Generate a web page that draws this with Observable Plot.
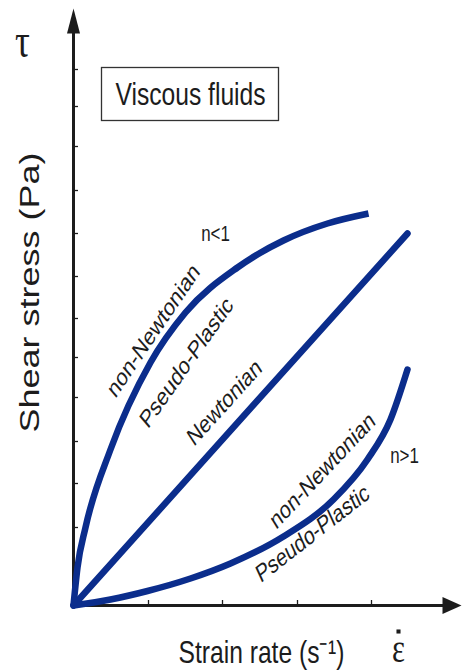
<!DOCTYPE html>
<html><head><meta charset="utf-8">
<script src="https://cdn.jsdelivr.net/npm/d3@7"></script>
<script src="https://cdn.jsdelivr.net/npm/@observablehq/plot@0.6"></script>
<style>html,body{margin:0;padding:0;background:#fff;overflow:hidden}</style>
</head><body><div id="chart"></div>
<script>
// Strain rate (x) vs shear stress (y), arbitrary units
const shearThinning = [ // n<1
  {x:0,y:0},{x:4,y:38},{x:12,y:78},{x:37,y:156},{x:77,y:243},{x:112,y:293},
  {x:164,y:338},{x:210,y:365},{x:254,y:382},{x:295,y:392}
];
const newtonian = [{x:0,y:0},{x:334,y:372}];
const shearThickening = [ // n>1
  {x:0,y:0},{x:37,y:6},{x:74,y:14.5},{x:117,y:27},{x:157,y:42},{x:210,y:69},
  {x:260,y:106},{x:294,y:146},{x:317,y:186},{x:334,y:236}
];
const xTicks = [75, 149, 224, 298];
const yTicks = [39, 78, 122, 164, 208, 248, 287, 329, 372, 415, 459, 499, 536];
const curveLabels = [
  {text:"non-Newtonian", x:80, y:275, angle:-48.7},
  {text:"Pseudo-Plastic", x:113, y:243, angle:-47.7},
  {text:"Newtonian", x:151, y:203, angle:-40.6},
  {text:"non-Newtonian", x:249, y:135, angle:-39.3},
  {text:"Pseudo-Plastic", x:239, y:72, angle:-31}
];
const indexLabels = [{text:"n<1", x:142, y:365},{text:"n>1", x:331, y:143}];
const titleBox = [{text:"Viscous fluids", x:117, y:511}];
const stressSymbol = [{text:"τ", x:-51, y:549}];
const rateSymbol = [{text:"ε", x:325, y:-56}];
const axisTitles = {y:{text:"Shear stress (Pa)", x:-35, y:313}, x:{text:"Strain rate (s⁻¹)", x:188, y:-57}};

const blue = "#0b2d8c", ink = "#1c1c1c";
const serif = "'Liberation Serif', 'DejaVu Serif', serif";
const arrowUp = {draw(ctx){ctx.moveTo(0,0);ctx.lineTo(6.5,25);ctx.lineTo(-6.5,25);ctx.closePath();}};
const arrowRight = {draw(ctx){ctx.moveTo(0,0);ctx.lineTo(-19,8.5);ctx.lineTo(-19,-8.5);ctx.closePath();}};

const chart = Plot.plot({
  width: 462, height: 670,
  marginLeft: 73, marginRight: 1, marginTop: 8, marginBottom: 65,
  x: {domain: [0, 388], axis: null},
  y: {domain: [0, 597], axis: null},
  style: {background: "white", fontFamily: "'Liberation Sans', Arial, sans-serif", color: ink},
  marks: [
    Plot.ruleX([0], {y1: 0, y2: 575, stroke: ink, strokeWidth: 3}),
    Plot.ruleY([0], {x1: 0, x2: 370, stroke: ink, strokeWidth: 3}),
    Plot.dot([{x:0, y:597}], {x:"x", y:"y", symbol: arrowUp, fill: ink, stroke: "none"}),
    Plot.dot([{x:388, y:0}], {x:"x", y:"y", symbol: arrowRight, fill: ink, stroke: "none"}),
    Plot.ruleX(xTicks, {y1: 0, y2: 5, stroke: ink, strokeWidth: 1.3}),
    Plot.ruleY(yTicks, {x1: 0, x2: 5, stroke: ink, strokeWidth: 1.3}),
    Plot.rect(titleBox, {x1: d => d.x - 88.5, x2: d => d.x + 88.5, y1: d => d.y - 26.5, y2: d => d.y + 26.5, fill: "white", stroke: "#333", strokeWidth: 1.3}),
    Plot.text(titleBox, {x:"x", y:"y", text:"text", fontSize: 32, fill: ink}),
    Plot.line(newtonian, {x:"x", y:"y", stroke: blue, strokeWidth: 6.5, strokeLinecap: "round"}),
    Plot.line(shearThickening, {x:"x", y:"y", stroke: blue, strokeWidth: 6.5, strokeLinecap: "round", curve: "monotone-x"}),
    Plot.line(shearThinning, {x:"x", y:"y", stroke: blue, strokeWidth: 6.5, strokeLinecap: "butt", curve: "monotone-x"}),
    Plot.text(curveLabels, {x:"x", y:"y", text:"text", rotate: d => d.angle, fontSize: 25, fill: ink}),
    Plot.text(indexLabels, {x:"x", y:"y", text:"text", fontSize: 22, lineAnchor: "bottom", fill: ink}),
    Plot.text(stressSymbol, {x:"x", y:"y", text:"text", fontSize: 48, lineAnchor: "bottom", fontFamily: serif, fill: ink}),
    Plot.text(rateSymbol, {x:"x", y:"y", text:"text", fontSize: 40, lineAnchor: "bottom", fontFamily: serif, fill: ink}),
    Plot.dot(rateSymbol, {x:"x", y:"y", dy: -30, symbol: "square", r: 2.3, fill: ink, stroke: "none"}),
    Plot.text([axisTitles.y], {x:"x", y:"y", text:"text", rotate: -90, fontSize: 36, lineAnchor: "bottom", fill: ink}),
    Plot.text([axisTitles.x], {x:"x", y:"y", text:"text", fontSize: 32, lineAnchor: "bottom", fill: ink})
  ]
});
// the original figure is horizontally condensed: squeeze every text in screen space about its anchor
chart.querySelectorAll("text").forEach(t => {
  const tr = t.getAttribute("transform");
  if (tr && /^translate\(/.test(tr)) {
    t.setAttribute("transform", tr.replace(/^(translate\([^)]*\))/, "$1 scale(0.77,1)"));
  } else {
    const x = +t.getAttribute("x") || 0, y = +t.getAttribute("y") || 0;
    t.removeAttribute("x"); t.removeAttribute("y");
    t.setAttribute("transform", `translate(${x},${y}) scale(0.77,1)` + (tr ? " " + tr : ""));
  }
});
document.getElementById("chart").appendChild(chart);
</script></body></html>
